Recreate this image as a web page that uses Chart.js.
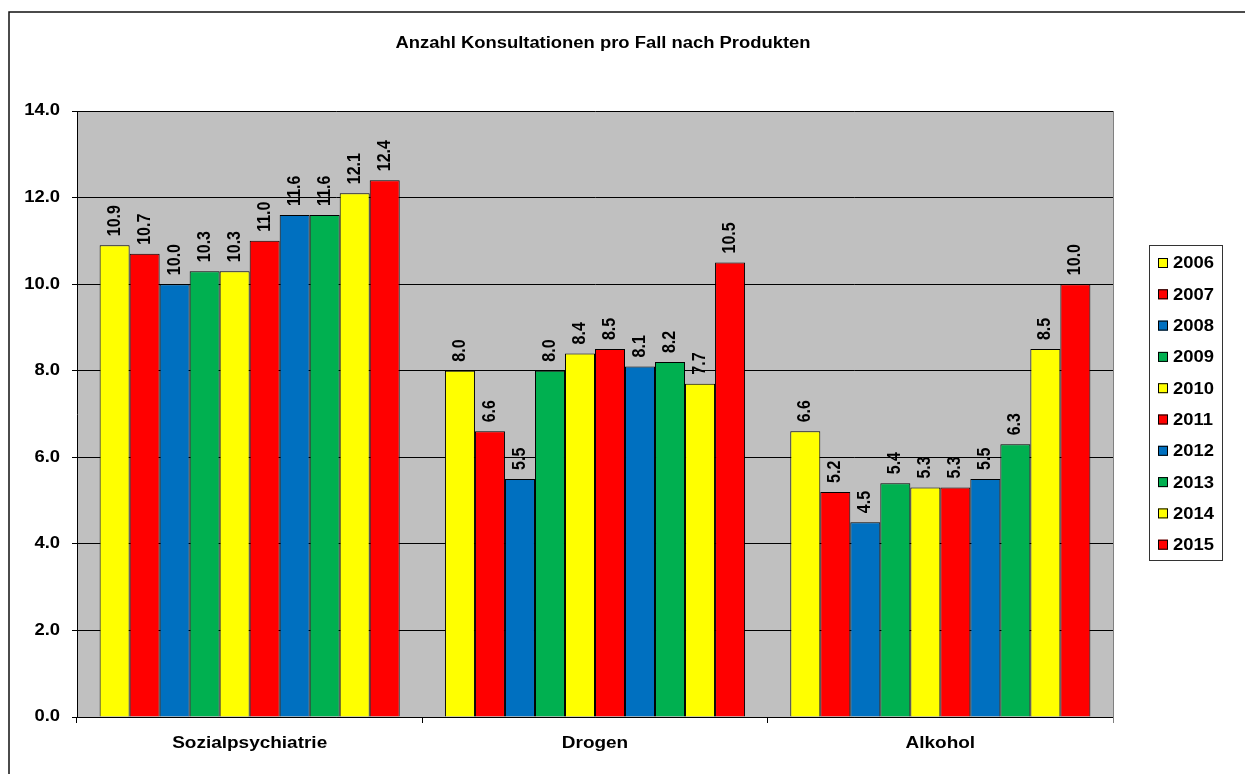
<!DOCTYPE html>
<html lang="de">
<head>
<meta charset="utf-8">
<title>Anzahl Konsultationen pro Fall nach Produkten</title>
<script src="https://cdn.jsdelivr.net/npm/chart.js@4.4.1/dist/chart.umd.min.js"></script>
<style>
  html, body { margin: 0; padding: 0; background: #fff; }
  #wrap { width: 1245px; height: 774px; position: relative; }
</style>
</head>
<body>
<div id="wrap"><canvas id="chart"></canvas></div>
<script>
// Daten
const titel = "Anzahl Konsultationen pro Fall nach Produkten";
const produkte = ["Sozialpsychiatrie", "Drogen", "Alkohol"];
const jahre = ["2006", "2007", "2008", "2009", "2010", "2011", "2012", "2013", "2014", "2015"];

const werte2006 = [10.9, 8.0, 6.6];
const werte2007 = [10.7, 6.6, 5.2];
const werte2008 = [10.0, 5.5, 4.5];
const werte2009 = [10.3, 8.0, 5.4];
const werte2010 = [10.3, 8.4, 5.3];
const werte2011 = [11.0, 8.5, 5.3];
const werte2012 = [11.6, 8.1, 5.5];
const werte2013 = [11.6, 8.2, 6.3];
const werte2014 = [12.1, 7.7, 8.5];
const werte2015 = [12.4, 10.5, 10.0];
const alleWerte = [werte2006, werte2007, werte2008, werte2009, werte2010,
                   werte2011, werte2012, werte2013, werte2014, werte2015];

const yMin = 0, yMax = 14, yStep = 2;

const GELB = "#FFFF00", ROT = "#FF0000", BLAU = "#0070C0", GRUEN = "#00B050";
const farben = [GELB, ROT, BLAU, GRUEN, GELB, ROT, BLAU, GRUEN, GELB, ROT];

// Schrift leicht in die Breite gezogen (wie im Excel-Export)
const SX = 1.15;
const FONT = '"Liberation Sans", Arial, sans-serif';

function text(ctx, s, x, y, size, align, base, rot) {
    ctx.save();
    ctx.translate(x, y);
    ctx.scale(SX, 1);
    if (rot) ctx.rotate(rot);
    ctx.font = `bold ${size}px ${FONT}`;
    ctx.textAlign = align;
    ctx.textBaseline = base;
    ctx.fillStyle = "#000";
    ctx.fillText(s, 0, 0);
    ctx.restore();
}

const excelLook = {
    id: "excelLook",
    beforeDraw(chart) {
        const { ctx, chartArea: a } = chart;
        ctx.save();
        ctx.fillStyle = "#fff";
        ctx.fillRect(0, 0, chart.width, chart.height);
        // Rahmen um das Diagramm
        ctx.strokeStyle = "#111";
        ctx.lineWidth = 1.5;
        ctx.beginPath();
        ctx.moveTo(9, chart.height + 5);
        ctx.lineTo(9, 12);
        ctx.lineTo(chart.width + 5, 12);
        ctx.stroke();
        // Zeichnungsfläche
        ctx.fillStyle = "#C0C0C0";
        ctx.fillRect(a.left, a.top, a.right - a.left, a.bottom - a.top);
        ctx.restore();
    },
    afterDatasetsDraw(chart) {
        const { ctx } = chart;
        chart.data.datasets.forEach((ds, i) => {
            chart.getDatasetMeta(i).data.forEach((bar, j) => {
                text(ctx, ds.data[j].toFixed(1), bar.x, bar.y - 9, 16, "left", "middle", -Math.PI / 2);
            });
        });
    },
    afterDraw(chart) {
        const { ctx, chartArea: a } = chart;
        const y = chart.scales.y, x = chart.scales.x;

        ctx.save();
        ctx.strokeStyle = "#808080";
        ctx.lineWidth = 1;
        ctx.beginPath();
        ctx.moveTo(a.right + 0.5, a.top);
        ctx.lineTo(a.right + 0.5, a.bottom + 6);
        ctx.stroke();
        ctx.restore();

        y.ticks.forEach(t => {
            text(ctx, t.value.toFixed(1), 60, y.getPixelForValue(t.value), 16, "right", "middle");
        });
        produkte.forEach((p, i) => {
            text(ctx, p, x.getPixelForValue(i), 743, 16.5, "center", "middle");
        });

        text(ctx, titel, 603, 44, 16, "center", "middle");

        // Legende
        ctx.save();
        ctx.strokeStyle = "#333";
        ctx.lineWidth = 1;
        ctx.strokeRect(1149.5, 245.5, 73, 315);
        chart.data.datasets.forEach((ds, i) => {
            const cy = 263 + i * 31.3;
            ctx.fillStyle = ds.backgroundColor;
            ctx.fillRect(1158, cy - 5, 10, 10);
            ctx.strokeStyle = "#000";
            ctx.strokeRect(1158.5, cy - 4.5, 9, 9);
            text(ctx, ds.label, 1173, cy + 1, 16, "left", "middle");
        });
        ctx.restore();
    }
};

const datasets = jahre.map((j, i) => ({
    label: j,
    data: alleWerte[i],
    backgroundColor: farben[i],
    borderColor: "#000",
    borderWidth: 1,
    borderSkipped: "bottom",
    categoryPercentage: 0.869,
    barPercentage: 1
}));

new Chart(document.getElementById("chart"), {
    type: "bar",
    data: { labels: produkte, datasets },
    options: {
        responsive: true,
        maintainAspectRatio: false,
        devicePixelRatio: 1,
        animation: false,
        layout: { padding: { left: 0, top: 111, right: 132, bottom: 0 } },
        plugins: { legend: { display: false }, title: { display: false }, tooltip: { enabled: false } },
        scales: {
            x: {
                offset: true,
                grid: { offset: true, drawOnChartArea: false, drawTicks: true, tickLength: 6, tickColor: "#000", color: "#000" },
                border: { color: "#000", width: 1 },
                ticks: { display: false },
                afterFit: s => { s.height = 57; }
            },
            y: {
                min: yMin, max: yMax,
                ticks: { display: false, stepSize: yStep },
                grid: { color: "#000", lineWidth: 1, drawTicks: true, tickLength: 5, tickColor: "#000" },
                border: { color: "#000", width: 1 },
                afterFit: s => { s.width = 77; }
            }
        }
    },
    plugins: [excelLook]
});
</script>
</body>
</html>
